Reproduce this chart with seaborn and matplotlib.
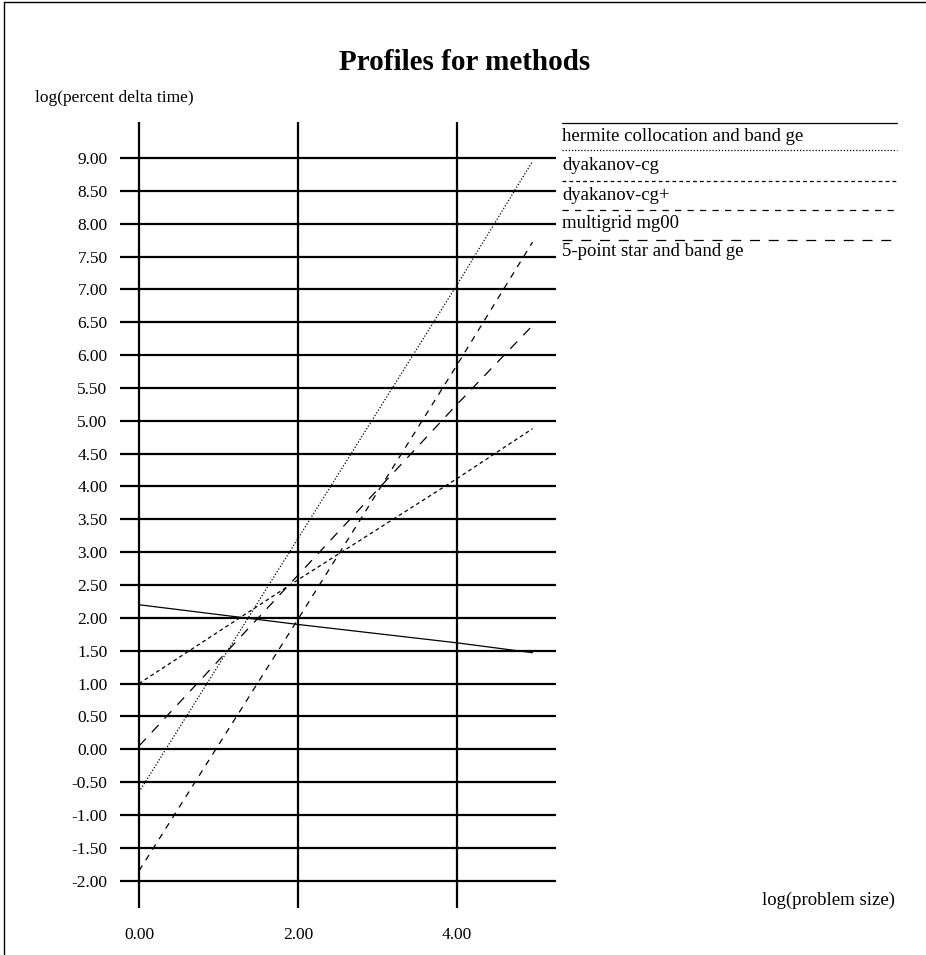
import numpy as np
import pandas as pd
import matplotlib
matplotlib.use("Agg")
import matplotlib.pyplot as plt
from matplotlib.lines import Line2D
import seaborn as sns

# ---- data ----
methods = ["hermite collocation and band ge", "dyakanov-cg", "dyakanov-cg+",
           "multigrid mg00", "5-point star and band ge"]
x_vals = [0.0, 2.0, 4.0, 4.95]
hermite = [2.20, 1.90, 1.62, 1.47]
dyakanov_cg = [-0.65, 3.21, 7.07, 8.95]
dyakanov_cg_plus = [1.00, 2.58, 4.12, 4.88]
multigrid = [-1.85, 1.98, 5.85, 7.72]
five_point = [0.05, 2.65, 5.25, 6.45]
y_ticks = [-2.0 + 0.5 * i for i in range(23)]
x_ticks = [0.0, 2.0, 4.0]

series = [hermite, dyakanov_cg, dyakanov_cg_plus, multigrid, five_point]
df = pd.DataFrame({
    "x": np.tile(x_vals, len(methods)),
    "y": np.concatenate(series),
    "method": np.repeat(methods, len(x_vals)),
})

dash_map = {
    methods[0]: "",
    methods[1]: (1, 1.5),
    methods[2]: (3, 2.5),
    methods[3]: (5, 5),
    methods[4]: (8, 7),
}

sns.set_style("white")
plt.rcParams["font.family"] = ["Liberation Serif", "DejaVu Serif"]
plt.rcParams["text.color"] = "black"
plt.rcParams["xtick.color"] = "black"
plt.rcParams["ytick.color"] = "black"
plt.rcParams["axes.labelcolor"] = "black"

W, H = 926, 955
fig = plt.figure(figsize=(W / 100, H / 100), dpi=100)
ax = fig.add_axes([120 / W, 1 - 908 / H, (556 - 120) / W, (908 - 122) / H])

LW = 0.9
sns.lineplot(data=df, x="x", y="y", style="method", dashes=dash_map,
             color="black", lw=LW, legend=False, ax=ax, sort=False,
             estimator=None)

ax.set_xlim(-0.239, 5.245)
ax.set_ylim(-2.416, 9.548)
ax.set_xticks(x_ticks)
ax.set_yticks(y_ticks)
ax.set_xticklabels([f"{v:.2f}" for v in x_ticks])
ax.set_yticklabels([f"{v:.2f}" for v in y_ticks])
ax.tick_params(axis="both", length=0, labelsize=12.5, colors="black")
ax.tick_params(axis="y", pad=9)
ax.tick_params(axis="x", pad=14)
ax.grid(True, color="black", lw=1.6)
ax.set_axisbelow(True)
for s in ax.spines.values():
    s.set_visible(False)
ax.set_xlabel("")
ax.set_ylabel("")

# titles / labels
fig.text(465 / W, 1 - 62 / H, "Profiles for methods", ha="center", va="center",
         fontsize=21, fontweight="bold", color="black")
fig.text(35 / W, 1 - 98 / H, "log(percent delta time)", ha="left", va="center",
         fontsize=12.5, color="black")
fig.text(762 / W, 1 - 900 / H, "log(problem size)", ha="left", va="center",
         fontsize=13.5, color="black")

# legend drawn manually: line above each label
leg_line_y = [123, 150, 181, 210, 240]
leg_text_y = [136, 166, 195, 224, 252]
for m, ly, ty in zip(methods, leg_line_y, leg_text_y):
    d = dash_map[m]
    ln = Line2D([562 / W, 897 / W], [1 - ly / H, 1 - ly / H], color="black",
                lw=LW, transform=fig.transFigure)
    if d:
        ln.set_dashes(d)
    fig.add_artist(ln)
    fig.text(562 / W, 1 - ty / H, m, ha="left", va="center", fontsize=13.5,
             color="black")

# figure frame (left and top edges visible in the reference)
fig.add_artist(Line2D([3.5 / W, 3.5 / W], [0, 1 - 2 / H], color="black",
                      lw=1, transform=fig.transFigure))
fig.add_artist(Line2D([3.5 / W, 1], [1 - 2 / H, 1 - 2 / H], color="black",
                      lw=1, transform=fig.transFigure))

fig.savefig("out.png", dpi=100)
